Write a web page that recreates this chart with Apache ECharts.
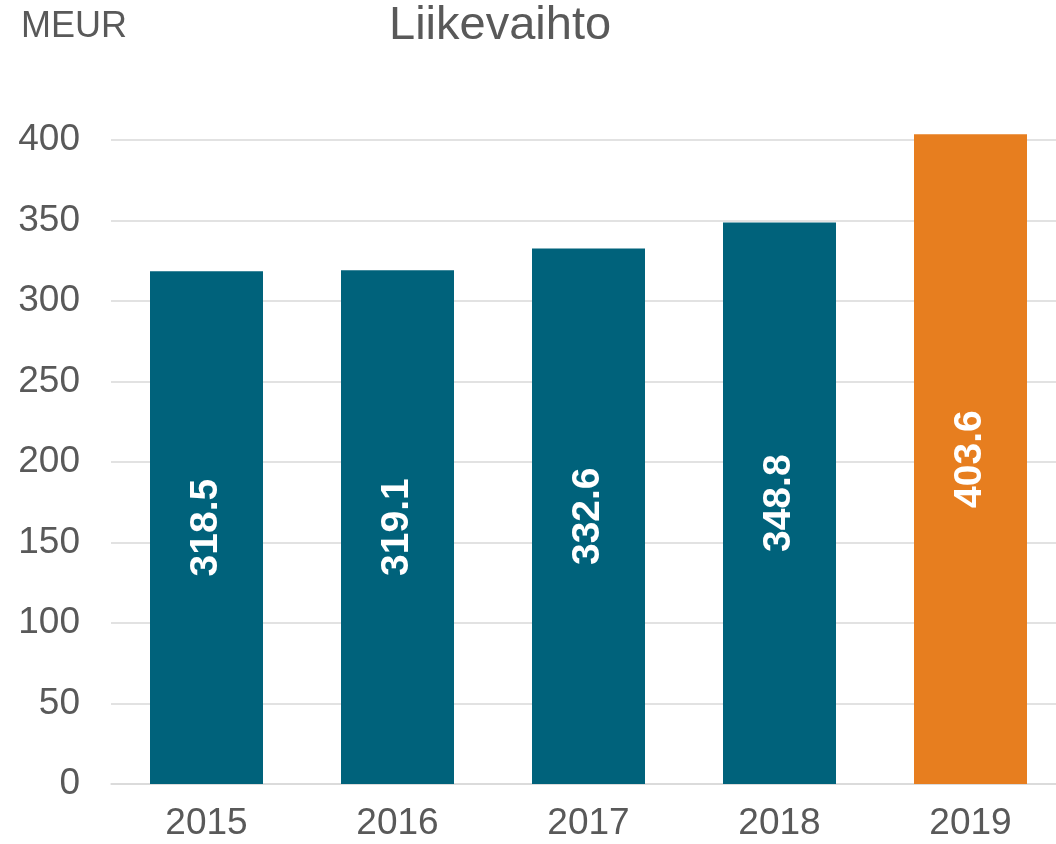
<!DOCTYPE html>
<html>
<head>
<meta charset="utf-8">
<title>Liikevaihto</title>
<script src="https://cdn.jsdelivr.net/npm/echarts@6/dist/echarts.min.js"></script>
<style>
    html, body { margin: 0; padding: 0; background: #fff; }
    #liikevaihto-chart { width: 1056px; height: 844px; }
</style>
</head>
<body>
<div id="liikevaihto-chart"></div>
<script>
/************************** data **************************/
var years = ['2015', '2016', '2017', '2018', '2019'];
var revenue = [318.5, 319.1, 332.6, 348.8, 403.6];
var barColors = ['#00627B', '#00627B', '#00627B', '#00627B', '#E77E1F'];
var yTicks = [0, 50, 100, 150, 200, 250, 300, 350, 400];

var fontName = '"Liberation Sans", Arial, sans-serif';
var textGrey = '#595959';

chartDom = document.getElementById('liikevaihto-chart');

optionRevenue = {
    animation: false,
    title: [
        {
            text: 'Liikevaihto',
            left: 389,
            top: 3,
            padding: 0,
            textStyle: { fontFamily: fontName, fontSize: 47, fontWeight: 'normal', color: textGrey }
        },
        {
            text: 'MEUR',
            left: 21,
            top: 9,
            padding: 0,
            textStyle: { fontFamily: fontName, fontSize: 36, fontWeight: 'normal', color: textGrey }
        }
    ],
    grid: {
        left: 111,
        right: -10,
        top: 140,
        bottom: 60,
        outerBoundsMode: 'none'
    },
    xAxis: {
        type: 'category',
        data: years,
        axisTick: { show: false },
        axisLine: { lineStyle: { color: '#d9d9d9', width: 1.5 } },
        axisLabel: { margin: 21, fontFamily: fontName, fontSize: 37, color: textGrey }
    },
    yAxis: {
        type: 'value',
        min: yTicks[0],
        max: yTicks[yTicks.length - 1],
        interval: yTicks[1] - yTicks[0],
        axisLine: { show: false },
        axisTick: { show: false },
        splitLine: { lineStyle: { color: '#d9d9d9', width: 1.5 } },
        axisLabel: { margin: 31, fontFamily: fontName, fontSize: 37, color: textGrey }
    },
    series: [{
        name: 'Liikevaihto',
        type: 'bar',
        clip: false,
        barWidth: 113,
        data: revenue.map(function (v, i) {
            return { value: v, itemStyle: { color: barColors[i] } };
        }),
        label: {
            show: true,
            position: 'inside',
            rotate: 90,
            fontFamily: fontName,
            fontSize: 39,
            fontWeight: 'bold',
            color: '#fff',
            formatter: function (p) { return p.value.toFixed(1); }
        }
    }]
};

myChart = echarts.init(chartDom);
myChart.setOption(optionRevenue);
</script>
</body>
</html>
